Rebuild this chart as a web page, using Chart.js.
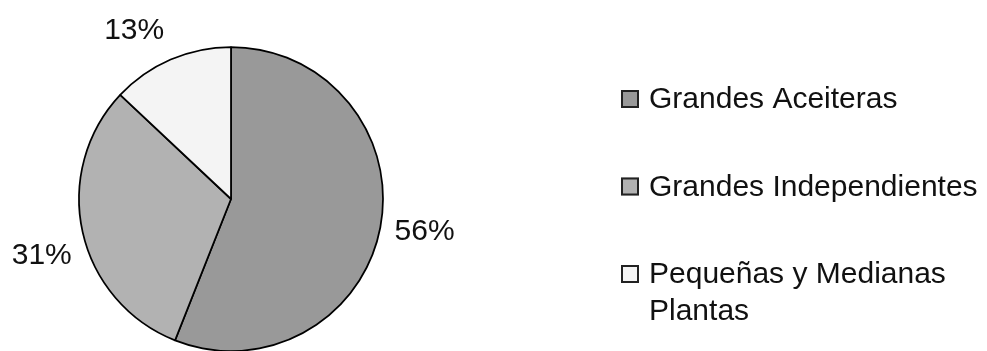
<!DOCTYPE html>
<html>
<head>
<meta charset="utf-8">
<script src="https://cdn.jsdelivr.net/npm/chart.js@4"></script>
<style>
  html, body { margin: 0; padding: 0; background: #fff; overflow: hidden; }
  #wrap { position: relative; width: 987px; height: 351px; }
</style>
</head>
<body>
<div id="wrap"><canvas id="plantas-chart" width="987" height="351"></canvas></div>
<script>
// Participación por tipo de planta (%)
const categories = ['Grandes Aceiteras', 'Grandes Independientes', 'Pequeñas y Medianas Plantas'];
const shares = [56, 31, 13];
const sliceColors = ['#999999', '#b2b2b2', '#f4f4f4'];

const FONT = '30px "Liberation Sans", Arial, sans-serif';
const TEXT_COLOR = '#111';

// hand nudges for the percentage labels, in px
const labelNudge = [[1, -4], [2, 14], [-19, 12]];

// percentage labels outside each slice
const pctLabels = {
    id: 'pctLabels',
    afterDatasetsDraw(chart) {
        const ctx = chart.ctx;
        const arcs = chart.getDatasetMeta(0).data;
        ctx.save();
        ctx.font = FONT;
        ctx.fillStyle = TEXT_COLOR;
        ctx.textAlign = 'center';
        ctx.textBaseline = 'middle';
        arcs.forEach((arc, i) => {
            const { x, y, startAngle, endAngle, outerRadius } =
                arc.getProps(['x', 'y', 'startAngle', 'endAngle', 'outerRadius'], true);
            const mid = (startAngle + endAngle) / 2;
            const r = outerRadius + 44;
            const lx = x + Math.cos(mid) * r + labelNudge[i][0];
            const ly = y + Math.sin(mid) * r + labelNudge[i][1];
            ctx.fillText(shares[i] + '%', lx, ly);
        });
        ctx.restore();
    }
};

// legend on the right, wraps long names
const sideLegend = {
    id: 'sideLegend',
    afterDraw(chart) {
        const ctx = chart.ctx;
        const ds = chart.data.datasets[0];
        const boxX = 621, textX = 649, maxW = 987 - textX;
        ctx.save();
        ctx.font = FONT;
        ctx.textAlign = 'left';
        ctx.textBaseline = 'alphabetic';
        chart.data.labels.forEach((label, i) => {
            const baseline = 108 + i * 87.5;
            // swatch
            ctx.fillStyle = ds.backgroundColor[i];
            ctx.fillRect(boxX, baseline - 18, 18, 18);
            ctx.strokeStyle = '#222';
            ctx.lineWidth = 2;
            ctx.strokeRect(boxX + 1, baseline - 17, 16, 16);
            // text
            ctx.fillStyle = TEXT_COLOR;
            const words = label.split(' ');
            let line = '', y = baseline;
            words.forEach(w => {
                const test = line ? line + ' ' + w : w;
                if (line && ctx.measureText(test).width > maxW) {
                    ctx.fillText(line, textX, y);
                    line = w;
                    y += 37;
                } else {
                    line = test;
                }
            });
            ctx.fillText(line, textX, y);
        });
        ctx.restore();
    }
};

new Chart(document.getElementById('plantas-chart'), {
    type: 'pie',
    data: {
        labels: categories,
        datasets: [{
            data: shares,
            backgroundColor: sliceColors,
            borderColor: '#000',
            borderWidth: 1.75
        }]
    },
    options: {
        responsive: false,
        animation: false,
        radius: 152,
        layout: { padding: { left: 79, right: 604, top: 47, bottom: 0 } },
        plugins: {
            legend: { display: false },
            tooltip: { enabled: false }
        }
    },
    plugins: [pctLabels, sideLegend]
});
</script>
</body>
</html>
